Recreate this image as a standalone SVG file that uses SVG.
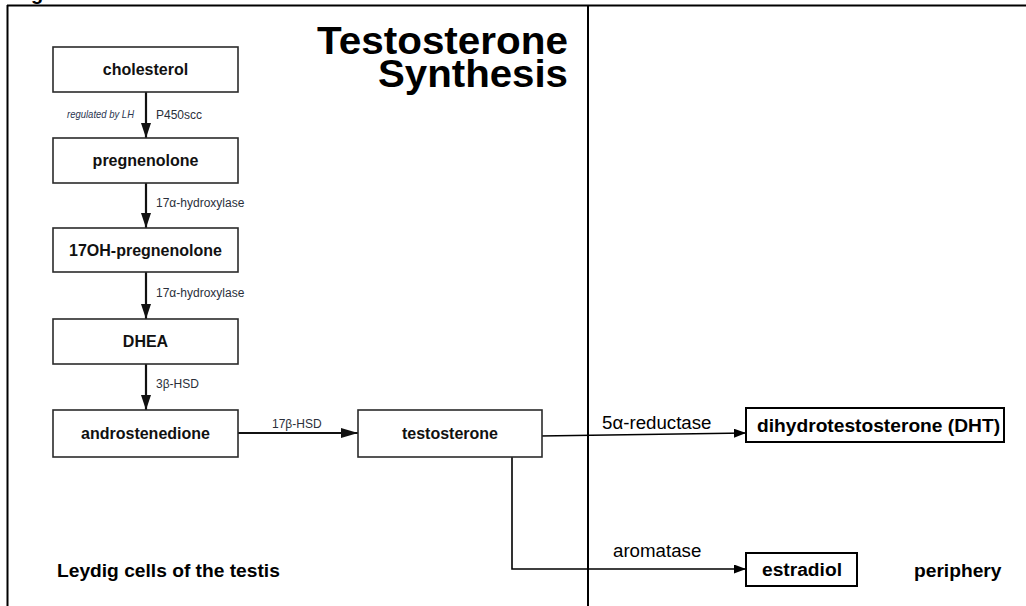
<svg xmlns="http://www.w3.org/2000/svg" width="1026" height="606" viewBox="0 0 1026 606">
<style>
.frame{stroke:#000;stroke-width:2;fill:none}
.lbox{fill:#fff;stroke:#2b2b2b;stroke-width:1.6}
.rbox{fill:#fff;stroke:#000;stroke-width:2}
.ltxt{font-family:"Liberation Sans",Arial,sans-serif;font-weight:bold;font-size:16px;fill:#111;text-anchor:middle}
.rtxt{font-family:"Liberation Sans",Arial,sans-serif;font-weight:bold;font-size:19.2px;fill:#000}
.ttl{font-family:"Liberation Sans",Arial,sans-serif;font-weight:bold;font-size:38px;fill:#000;text-anchor:end}
.enz{font-family:"Liberation Sans",Arial,sans-serif;font-size:12px;fill:#2a2f3a}
.enz2{font-family:"Liberation Sans",Arial,sans-serif;font-size:18.7px;fill:#000}
.conn{stroke:#111;stroke-width:2.2;fill:none}
.conn2{stroke:#000;stroke-width:1.6;fill:none}
</style>
<defs>
<marker id="ah" markerWidth="15" markerHeight="10" refX="15" refY="5" orient="auto" markerUnits="userSpaceOnUse" viewBox="0 0 15 10">
<path d="M0,0 L15,5 L0,10 Z" fill="#111"/>
</marker>
<marker id="ah2" markerWidth="12" markerHeight="9" refX="12" refY="4.5" orient="auto" markerUnits="userSpaceOnUse" viewBox="0 0 12 9">
<path d="M0,0 L12,4.5 L0,9 Z" fill="#000"/>
</marker>
<marker id="ah3" markerWidth="17" markerHeight="10" refX="17" refY="5" orient="auto" markerUnits="userSpaceOnUse" viewBox="0 0 17 10">
<path d="M0,0 L17,5 L0,10 Z" fill="#111"/>
</marker>
</defs>
<rect width="1026" height="606" fill="#fff"/>
<text x="31" y="0" font-family="Liberation Sans,Arial,sans-serif" font-weight="bold" font-size="20" fill="#000">g</text>
<g id="frame">
<line class="frame" x1="7" y1="5.5" x2="1026" y2="5.5"/>
<line class="frame" x1="7.5" y1="5" x2="7.5" y2="606"/>
<line class="frame" x1="588" y1="5" x2="588" y2="606"/>
</g>
<g id="title">
<text class="ttl"><tspan x="568" y="54" textLength="251" lengthAdjust="spacingAndGlyphs">Testosterone</tspan><tspan x="568" y="87" textLength="190" lengthAdjust="spacingAndGlyphs">Synthesis</tspan></text>
</g>
<g id="connectors">
<line class="conn" x1="146" y1="92" x2="146" y2="138" marker-end="url(#ah)"/>
<line class="conn" x1="146" y1="183" x2="146" y2="228" marker-end="url(#ah)"/>
<line class="conn" x1="146" y1="272" x2="146" y2="319" marker-end="url(#ah)"/>
<line class="conn" x1="146" y1="364" x2="146" y2="410" marker-end="url(#ah)"/>
<line class="conn" x1="238" y1="433" x2="358" y2="433" stroke-width="2.5" marker-end="url(#ah3)"/>
<path class="conn2" d="M540,436 L746,433" marker-end="url(#ah2)"/>
<path class="conn2" d="M512,457 L512,569 L746,569" marker-end="url(#ah2)"/>
<text x="134" y="118" font-family="Liberation Sans,Arial,sans-serif" font-style="italic" font-size="10.5" fill="#2a3550" text-anchor="end" textLength="67" lengthAdjust="spacingAndGlyphs">regulated by LH</text>
<text class="enz" x="156" y="119" font-size="12.5">P450scc</text>
<text class="enz" x="156" y="207">17α-hydroxylase</text>
<text class="enz" x="156" y="297">17α-hydroxylase</text>
<text class="enz" x="156" y="388">3β-HSD</text>
<text class="enz" x="272" y="428">17β-HSD</text>
<text class="enz2" x="602" y="429">5α-reductase</text>
<text class="enz2" x="613" y="557">aromatase</text>
</g>
<g id="cholesterol"><rect class="lbox" x="53" y="47" width="185" height="45"/><text class="ltxt" x="145.5" y="75">cholesterol</text></g>
<g id="pregnenolone"><rect class="lbox" x="53" y="138" width="185" height="45"/><text class="ltxt" x="145.5" y="166">pregnenolone</text></g>
<g id="oh-pregnenolone"><rect class="lbox" x="53" y="228" width="185" height="44"/><text class="ltxt" x="145.5" y="256">17OH-pregnenolone</text></g>
<g id="dhea"><rect class="lbox" x="53" y="319" width="185" height="45"/><text class="ltxt" x="145.5" y="347">DHEA</text></g>
<g id="androstenedione"><rect class="lbox" x="53" y="410" width="185" height="47"/><text class="ltxt" x="145.5" y="439">androstenedione</text></g>
<g id="testosterone"><rect class="lbox" x="358" y="410" width="184" height="47"/><text class="ltxt" x="450" y="439">testosterone</text></g>
<g id="dht"><rect class="rbox" x="746" y="408" width="258" height="34"/><text class="rtxt" x="757" y="432">dihydrotestosterone (DHT)</text></g>
<g id="estradiol"><rect class="rbox" x="746" y="553" width="111" height="33"/><text class="rtxt" x="762" y="576">estradiol</text></g>
<g id="leydig"><text class="rtxt" x="57" y="577">Leydig cells of the testis</text></g>
<g id="periphery"><text class="rtxt" x="914" y="577">periphery</text></g>
</svg>
